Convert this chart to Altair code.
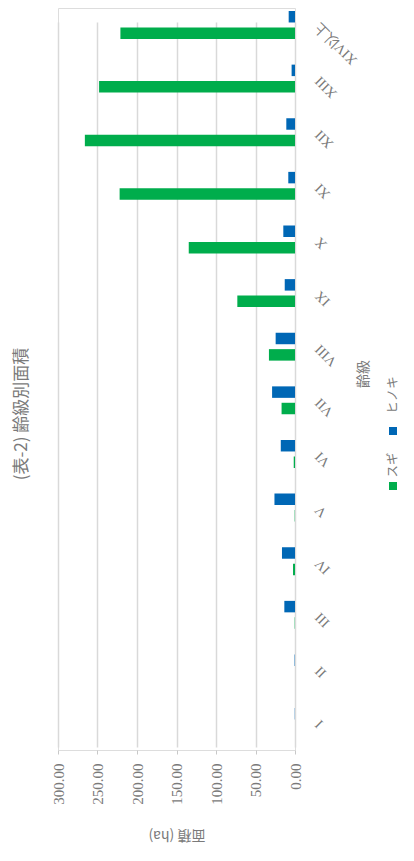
import altair as alt
import pandas as pd

categories = ["I", "II", "III", "IV", "V", "VI", "VII", "VIII", "IX", "X", "XI", "XII", "XIII", "XIV以上"]
sugi = [0.0, 0.0, 0.4, 2.5, 0.4, 1.6, 17.0, 33.0, 73.0, 134.5, 222.0, 266.0, 248.0, 221.0]
hinoki = [0.3, 0.5, 13.5, 16.5, 26.0, 18.0, 29.0, 24.5, 13.0, 14.8, 8.5, 11.0, 4.3, 8.0]
species = ["スギ", "ヒノキ"]
colors = ["#00AD4C", "#0067B5"]
ticks = [0, 50, 100, 150, 200, 250, 300]
chart_title = "(表-2) 齢級別面積"
legend_title = "齢級"

rows = []
for c, s, h in zip(categories, sugi, hinoki):
    rows.append({"齢級": c, "樹種": "スギ", "面積": s})
    rows.append({"齢級": c, "樹種": "ヒノキ", "面積": h})
df = pd.DataFrame(rows)

JP = "Noto Sans CJK JP"
SERIF = "Liberation Serif"
GRAY = "#7a7a7a"

bars = alt.Chart(df).mark_bar().encode(
    y=alt.Y("齢級:N", sort=list(reversed(categories)),
            scale=alt.Scale(paddingInner=0.48, paddingOuter=0, range=[3, 728]),
            axis=alt.Axis(orient="right", title=None, labelAngle=225, labelAlign="right",
                          labelBaseline="middle", labelPadding=22, ticks=False, domain=False,
                          grid=False, labelFont=SERIF, labelFontSize=14, labelColor=GRAY)),
    yOffset=alt.YOffset("樹種:N", sort=["ヒノキ", "スギ"],
                        scale=alt.Scale(paddingInner=0.3, paddingOuter=0)),
    x=alt.X("面積:Q", scale=alt.Scale(domain=[0, 300], reverse=True, nice=False),
            axis=alt.Axis(values=ticks, format=".2f", title="面積 (ha)", titleAngle=180,
                          titleFont=JP, titleFontSize=14, titleColor=GRAY, titleFontWeight="normal",
                          titleY=84, titleBaseline="middle",
                          labelAngle=270, labelAlign="right", labelBaseline="middle",
                          labelFont=SERIF, labelFontSize=15, labelColor=GRAY, labelPadding=9,
                          tickSize=4, tickColor="#c8c8c8", domain=False,
                          grid=True, gridColor="#d9d9d9", gridWidth=1.5)),
    color=alt.Color("樹種:N", scale=alt.Scale(domain=species, range=colors), legend=None),
)

layers = [bars]
legend_pos = {"スギ": (478, 457), "ヒノキ": (423, 387)}
lx = 335
for name, col in zip(species, colors):
    sy, ty = legend_pos[name]
    ldf = pd.DataFrame({"label": [name]})
    layers.append(alt.Chart(ldf).mark_square(size=64, color=col, opacity=1).encode(
        x=alt.value(lx), y=alt.value(sy)))
    layers.append(alt.Chart(ldf).mark_text(angle=270, align="center", baseline="middle",
                                           font=JP, fontSize=12.5, color=GRAY).encode(
        x=alt.value(lx), y=alt.value(ty), text="label:N"))
tdf = pd.DataFrame({"label": [legend_title]})
layers.append(alt.Chart(tdf).mark_text(angle=270, align="center", baseline="middle",
                                       font=JP, fontSize=14, color=GRAY).encode(
    x=alt.value(306), y=alt.value(366), text="label:N"))
ttdf = pd.DataFrame({"label": [chart_title]})
layers.append(alt.Chart(ttdf).mark_text(angle=270, align="center", baseline="middle",
                                        font=JP, fontSize=17, color=GRAY).encode(
    x=alt.value(-36), y=alt.value(406), text="label:N"))

chart = alt.layer(*layers).properties(
    width=237, height=742,
    autosize=alt.AutoSizeParams(type="none"),
    padding={"left": 50, "top": 0, "right": 111, "bottom": 100},
).configure_view(stroke=None).configure(background="white")

chart.save("out.html", embed_options={"renderer": "svg", "actions": False})
